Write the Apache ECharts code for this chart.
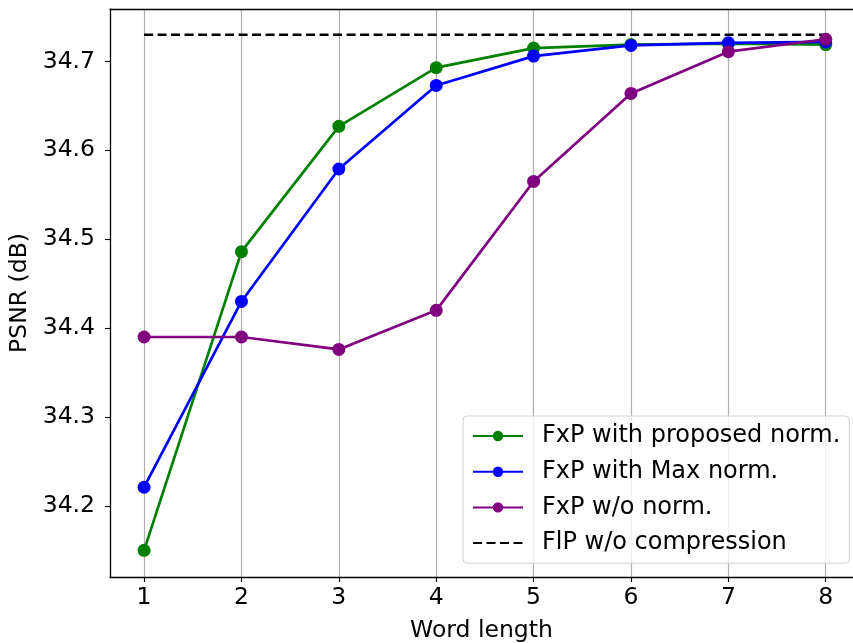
<!DOCTYPE html>
<html>
<head>
<meta charset="utf-8">
<script src="https://cdn.jsdelivr.net/npm/echarts@6/dist/echarts.min.js"></script>
<style>
  html, body { margin: 0; padding: 0; background: #fff; }
  #chart { width: 853px; height: 643px; }
</style>
</head>
<body>
<div id="chart"></div>
<script>
// Word lengths evaluated
const wordLengths = [1, 2, 3, 4, 5, 6, 7, 8];

// PSNR (dB) per word length
const proposedNorm = [34.150, 34.486, 34.627, 34.693, 34.715, 34.719, 34.720, 34.719];
const maxNorm      = [34.221, 34.430, 34.579, 34.673, 34.706, 34.718, 34.721, 34.722];
const noNorm       = [34.390, 34.390, 34.376, 34.420, 34.565, 34.664, 34.711, 34.725];
const floatRef     = 34.730;

// Axis tick labels
const xTicks = [1, 2, 3, 4, 5, 6, 7, 8];
const yTicks = [34.2, 34.3, 34.4, 34.5, 34.6, 34.7];

const FONT = 'DejaVu Sans';
const FS = 23.5;
const X_MIN = 0.65, X_MAX = 8.28;

function pairs(xs, ys) { return xs.map((x, i) => [x, ys[i]]); }

function lineSeries(name, color, values) {
  return {
    name: name,
    type: 'line',
    data: pairs(wordLengths, values),
    symbol: 'circle',
    symbolSize: 13,
    lineStyle: { color: color, width: 2.7 },
    itemStyle: { color: color },
    emphasis: { disabled: true },
    animation: false
  };
}

const chart = echarts.init(document.getElementById('chart'), null, { renderer: 'canvas' });

chart.setOption({
  backgroundColor: '#ffffff',
  animation: false,
  textStyle: { fontFamily: FONT },
  grid: { left: 110, top: 9, width: 743, height: 568, outerBoundsMode: 'none' },
  xAxis: [{
    type: 'value',
    min: X_MIN, max: X_MAX,
    name: 'Word length',
    nameLocation: 'middle',
    nameGap: 42,
    nameTextStyle: { fontFamily: FONT, fontSize: FS, color: '#000' },
    axisLine: { show: true, onZero: false, lineStyle: { color: '#000', width: 1.3 } },
    axisTick: { show: true, inside: false, length: 5, customValues: xTicks, lineStyle: { color: '#000', width: 1.1 } },
    axisLabel: { customValues: xTicks, fontFamily: FONT, fontSize: FS, color: '#000', margin: 9 },
    splitLine: { show: true, lineStyle: { color: '#b0b0b0', width: 1.2 } }
  }, {
    // top frame line
    type: 'value',
    position: 'top',
    min: X_MIN, max: X_MAX,
    axisLine: { show: true, onZero: false, lineStyle: { color: '#000', width: 1.3 } },
    axisTick: { show: false },
    axisLabel: { show: false },
    splitLine: { show: false }
  }],
  yAxis: {
    type: 'value',
    min: 34.12, max: 34.759,
    name: 'PSNR (dB)',
    nameLocation: 'middle',
    nameGap: 73,
    nameRotate: 90,
    nameTextStyle: { fontFamily: FONT, fontSize: FS, color: '#000' },
    axisLine: { show: true, onZero: false, lineStyle: { color: '#000', width: 1.3 } },
    axisTick: { show: true, inside: false, length: 5, customValues: yTicks, lineStyle: { color: '#000', width: 1.1 } },
    axisLabel: {
      customValues: yTicks, fontFamily: FONT, fontSize: FS, color: '#000', margin: 15,
      formatter: v => v.toFixed(1)
    },
    splitLine: { show: false }
  },
  legend: {
    left: 463, top: 416,
    orient: 'vertical',
    padding: [8, 9, 8, 9],
    itemGap: 11.7,
    itemWidth: 50,
    itemHeight: 13,
    backgroundColor: 'rgba(255,255,255,0.8)',
    borderColor: '#d0d0d0',
    borderWidth: 1,
    borderRadius: 4,
    textStyle: { fontFamily: FONT, fontSize: 24, color: '#000', lineHeight: 22, padding: [0, 0, 0, 14] },
    data: ['FxP with proposed norm.', 'FxP with Max norm.', 'FxP w/o norm.', 'FlP w/o compression']
  },
  series: [
    lineSeries('FxP with proposed norm.', '#008000', proposedNorm),
    lineSeries('FxP with Max norm.', '#0000ff', maxNorm),
    lineSeries('FxP w/o norm.', '#800080', noNorm),
    {
      name: 'FlP w/o compression',
      type: 'line',
      data: pairs([wordLengths[0], wordLengths[wordLengths.length - 1]], [floatRef, floatRef]),
      symbol: 'none',
      lineStyle: { color: '#000', width: 2.5, type: [9, 4.5] },
      itemStyle: { color: 'rgba(0,0,0,0)' },
      emphasis: { disabled: true },
      animation: false
    }
  ]
});
</script>
</body>
</html>
